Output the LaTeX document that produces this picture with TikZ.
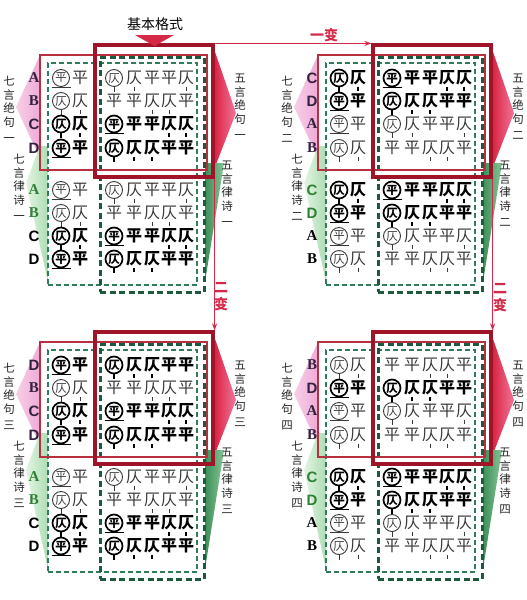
\documentclass[tikz,border=0pt]{standalone}
\usepackage{fontspec}
\setmainfont{Liberation Serif}
\newfontfamily\cjk{Noto Sans CJK SC}
\newfontfamily\lsans{Liberation Sans}
\usetikzlibrary{arrows.meta,shapes.geometric}

\definecolor{frameR}{HTML}{B8303F}
\definecolor{frameRR}{HTML}{A0142A}
\definecolor{dashG}{HTML}{2F7D5B}
\definecolor{dashGG}{HTML}{1B5A3C}
\definecolor{arrowR}{HTML}{D42A48}
\definecolor{letP}{HTML}{34203F}
\definecolor{letG}{HTML}{2F7F35}
\definecolor{regc}{HTML}{3A3A3A}
\definecolor{pinkL}{HTML}{F7D0E8}
\definecolor{pinkR}{HTML}{EFAAD6}
\definecolor{grnL}{HTML}{E2F4E2}
\definecolor{grnLR}{HTML}{ADDDB3}
\definecolor{redA}{HTML}{D61E3E}
\definecolor{redB}{HTML}{F27596}
\definecolor{grnRA}{HTML}{3D8F5A}
\definecolor{grnRB}{HTML}{86C597}

\tikzset{
  chr/.style={font=\cjk\fontsize{16}{16}\selectfont, text=regc, inner sep=0pt},
  chb/.style={font=\cjk\bfseries\fontsize{16}{16}\selectfont, text=black, inner sep=0pt},
  cir/.style={circle, draw, inner sep=0pt, minimum size=17pt},
  cirr/.style={cir, font=\cjk\fontsize{11.5}{11.5}\selectfont, text=regc, draw=regc, line width=0.9pt},
  cirb/.style={cir, font=\cjk\bfseries\fontsize{11.5}{11.5}\selectfont, text=black, draw=black, line width=1.7pt},
  mkr/.style={draw=regc, line width=0.8pt},
  mkb/.style={draw=black, line width=1.4pt},
  letA/.style={font=\bfseries\fontsize{15}{15}\selectfont, inner sep=0pt},
  letB/.style={letA},
  letC/.style={font=\lsans\bfseries\fontsize{15}{15}\selectfont, inner sep=0pt},
  letD/.style={letC},
  dashthin/.style={draw=dashG, line width=1.4pt, dash pattern=on 5pt off 3pt, inner sep=0pt, outer sep=0pt},
  dashthick/.style={draw=dashGG, line width=3pt, dash pattern=on 6pt off 3.5pt, inner sep=0pt, outer sep=0pt},
  redthin/.style={draw=frameR, line width=1.5pt, inner sep=0pt, outer sep=0pt},
  redthick/.style={draw=frameRR, line width=3.2pt, inner sep=0pt},
  vlab/.style={font=\cjk\fontsize{11.5}{13.5}\selectfont, align=center, inner sep=0pt, anchor=north, text=black!85},
  arr/.style={draw=arrowR, line width=1pt, -{Stealth[length=7pt,width=5pt]}},
  biantxt/.style={font=\cjk\bfseries\fontsize{14}{17}\selectfont, text=arrowR, align=center, inner sep=0pt}
}

\newcommand\pzcell[5]{%
  \if#4P
    \node[cir#5] (#1) at (#2,#3) {平};
    \draw[mk#5] ([xshift=-9.5pt]#1.south) -- ([xshift=9.5pt]#1.south);
  \fi
  \if#4Z
    \node[cir#5] (#1) at (#2,#3) {仄};
    \draw[mk#5] (#1.south) -- ([yshift=-5pt]#1.south);
  \fi
  \if#4p
    \node[ch#5] (#1) at (#2,#3) {平};
  \fi
  \if#4z
    \node[ch#5] (#1) at (#2,#3) {仄};
    \draw[mk#5] ([yshift=-1.5pt]#1.south) -- ([yshift=-5.5pt]#1.south);
  \fi
}

\newcommand\pzseven[9]{%
  \pzcell{#1c1}{\qdx+61}{\qy}{#3}{#2}%
  \pzcell{#1c2}{\qdx+80}{\qy}{#4}{#2}%
  \pzcell{#1c3}{\qdx+114}{\qy}{#5}{#2}%
  \pzcell{#1c4}{\qdx+134}{\qy}{#6}{#2}%
  \pzcell{#1c5}{\qdx+152}{\qy}{#7}{#2}%
  \pzcell{#1c6}{\qdx+169}{\qy}{#8}{#2}%
  \pzcell{#1c7}{\qdx+186}{\qy}{#9}{#2}%
}
\newcommand\rowA[1]{\pzseven{#1}{r}PpZzppz}
\newcommand\rowB[1]{\pzseven{#1}{r}Zzppzzp}
\newcommand\rowC[1]{\pzseven{#1}{b}ZzPppzz}
\newcommand\rowD[1]{\pzseven{#1}{b}PpZzzpp}

\newcommand\pzquad[5]{%
  \def\qdx{#2}\def\qdy{#3}%
  \shade[left color=pinkL,right color=pinkR] (#2+40,#3+55) -- (#2+16,#3+107) -- (#2+40,#3+158) -- cycle;
  \shade[left color=grnL,right color=grnLR] (#2+40,#3+146) -- (#2+26,#3+183) -- (#2+48,#3+282) -- (#2+48,#3+146) -- cycle;
  \shade[left color=redA,right color=redB] (#2+213,#3+46) -- (#2+236,#3+113) -- (#2+213,#3+172) -- cycle;
  \shade[left color=grnRA,right color=grnRB] (#2+205,#3+163) -- (#2+224,#3+163) -- (#2+205,#3+282) -- cycle;
  \node[dashthin, minimum width=149pt, minimum height=222pt] (#1dt) at (#2+122.5,#3+174) {};
  \node[dashthick, minimum width=104pt, minimum height=235pt] (#1dk) at (#2+152,#3+174.5) {};
  \node[redthin, minimum width=167pt, minimum height=115pt] (#1rt) at (#2+123.5,#3+112.5) {};
  \node[redthick, minimum width=118pt, minimum height=132pt] (#1t) at (#2+154,#3+111) {};
  \node[vlab] (#1la) at (#2+9,#3+76) {七\\言\\绝\\句\\[3pt]#5};
  \node[vlab] (#1lb) at (#2+19,#3+154) {七\\言\\律\\诗\\[3pt]#5};
  \node[vlab] (#1lc) at (#2+240,#3+74) {五\\言\\绝\\句\\[3pt]#5};
  \node[vlab] (#1ld) at (#2+227,#3+161) {五\\言\\律\\诗\\[3pt]#5};
  \foreach \t/\by/\lc [count=\i] in {#4} {%
    \pgfmathsetmacro\qy{#3+\by}%
    \node[let\t, text=\lc] (#1r\i L) at (#2+34,\qy) {\t};
    \csname row\t\endcsname{#1r\i}%
  }%
}

\begin{document}
\begin{tikzpicture}[x=1pt,y=-1pt]
\useasboundingbox (0,0) rectangle (527,600);
\fill[white] (0,0) rectangle (527,600);

\pzquad{q1}{0}{0}{A/78/letP,B/101/letP,C/124/letP,D/148/letP,A/190/letG,B/213/letG,C/236/black,D/259/black}{一}
\pzquad{q2}{278}{0}{C/78/letP,D/101/letP,A/124/letP,B/148/letP,C/190/letG,D/213/letG,A/236/black,B/259/black}{二}
\pzquad{q3}{0}{287}{D/78/letP,B/101/letP,C/124/letP,D/148/letP,A/190/letG,B/213/letG,C/236/black,D/259/black}{三}
\pzquad{q4}{278}{287}{B/78/letP,D/101/letP,A/124/letP,B/148/letP,C/190/letG,D/213/letG,A/236/black,B/259/black}{四}

\node[font=\cjk\fontsize{14}{14}\selectfont] (title) at (155,24) {基本格式};
\fill[arrowR] (135,35) -- (174,35) -- (154.5,46) -- cycle;

\draw[arr] (q1t.north east) -- (q2t.north west);
\node[biantxt] (b1) at (324,35) {一变};
\draw[arr] (q1t.south east) -- (q3t.north east);
\node[biantxt] (b2) at (221,297) {二\\变};
\draw[arr] (q2t.south east) -- (q4t.north east);
\node[biantxt] (b3) at (500,298) {二\\变};
\end{tikzpicture}
\end{document}
